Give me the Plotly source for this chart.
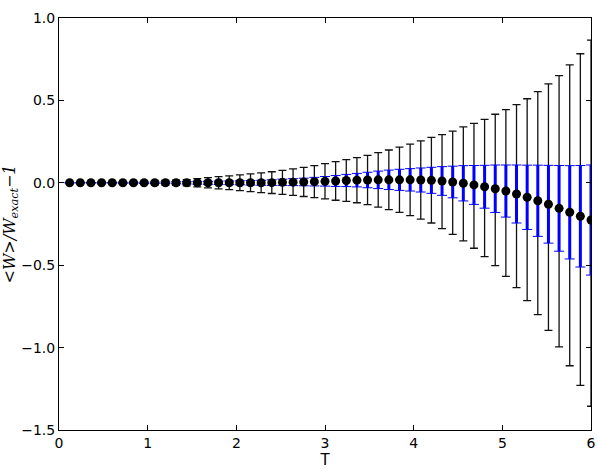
import plotly.graph_objects as go

# Temperatures T
T = [0.12, 0.24, 0.36, 0.48, 0.60, 0.72, 0.84, 0.96, 1.08, 1.20,
     1.32, 1.44, 1.56, 1.68, 1.80, 1.92, 2.04, 2.16, 2.28, 2.40,
     2.52, 2.64, 2.76, 2.88, 3.00, 3.12, 3.24, 3.36, 3.48, 3.60,
     3.72, 3.84, 3.96, 4.08, 4.20, 4.32, 4.44, 4.56, 4.68, 4.80,
     4.92, 5.04, 5.16, 5.28, 5.40, 5.52, 5.64, 5.76, 5.88, 6.00]

# <W>/W_exact - 1
mean = [0.0, 0.0, 0.0, 0.0, 0.0, 0.0, 0.0, 0.0, 0.0, 0.0,
        0.0, 0.0, 0.0, 0.0, 0.0, 0.0, 0.0, 0.0, 0.0, 0.001,
        0.003, 0.004, 0.005, 0.007, 0.009, 0.011, 0.014, 0.016, 0.017, 0.018,
        0.018, 0.018, 0.018, 0.017, 0.015, 0.011, 0.005, -0.003, -0.013, -0.024,
        -0.036, -0.050, -0.068, -0.088, -0.109, -0.130, -0.155, -0.179, -0.203, -0.226]

# black (wide) error bars, upper and lower
black_up = [0.002, 0.003, 0.004, 0.005, 0.006, 0.007, 0.008, 0.010, 0.012, 0.014,
            0.016, 0.019, 0.025, 0.031, 0.037, 0.042, 0.048, 0.054, 0.060, 0.066,
            0.073, 0.080, 0.088, 0.097, 0.107, 0.117, 0.127, 0.137, 0.150, 0.165,
            0.181, 0.198, 0.217, 0.238, 0.261, 0.281, 0.309, 0.342, 0.374, 0.409,
            0.452, 0.494, 0.542, 0.598, 0.662, 0.730, 0.805, 0.894, 0.986, 1.092]
black_down = [0.002, 0.003, 0.004, 0.005, 0.006, 0.007, 0.008, 0.010, 0.012, 0.014,
              0.016, 0.019, 0.025, 0.031, 0.037, 0.042, 0.048, 0.054, 0.060, 0.066,
              0.073, 0.080, 0.088, 0.097, 0.107, 0.117, 0.127, 0.137, 0.150, 0.165,
              0.181, 0.198, 0.217, 0.238, 0.259, 0.289, 0.318, 0.350, 0.384, 0.424,
              0.467, 0.518, 0.568, 0.627, 0.691, 0.765, 0.841, 0.931, 1.026, 1.130]

# blue (narrow) error bars
blue_err = [0.001, 0.001, 0.002, 0.002, 0.002, 0.003, 0.003, 0.004, 0.004, 0.005,
            0.006, 0.007, 0.008, 0.009, 0.010, 0.011, 0.012, 0.014, 0.015, 0.017,
            0.019, 0.021, 0.023, 0.026, 0.029, 0.033, 0.037, 0.041, 0.047, 0.053,
            0.059, 0.064, 0.068, 0.073, 0.079, 0.087, 0.096, 0.107, 0.118, 0.130,
            0.144, 0.158, 0.176, 0.195, 0.216, 0.236, 0.260, 0.283, 0.308, 0.334]

x_ticks = [0, 1, 2, 3, 4, 5, 6]
y_ticks = [-1.5, -1.0, -0.5, 0.0, 0.5, 1.0]

fig = go.Figure()
# black error bars
fig.add_trace(go.Scatter(
    x=T, y=mean, mode="markers",
    marker=dict(size=8, color="rgba(0,0,0,0)"),
    error_y=dict(type="data", array=black_up, arrayminus=black_down,
                 symmetric=False, color="#111111", thickness=1.3, width=4),
    showlegend=False, hoverinfo="skip"))
# blue thin caps
fig.add_trace(go.Scatter(
    x=T, y=mean, mode="markers",
    marker=dict(size=8, color="rgba(0,0,0,0)"),
    error_y=dict(type="data", array=blue_err, color="#0000ff",
                 thickness=1, width=5),
    showlegend=False, hoverinfo="skip"))
# blue thick stems + black points
fig.add_trace(go.Scatter(
    x=T, y=mean, mode="markers",
    marker=dict(size=9, color="black"),
    error_y=dict(type="data", array=blue_err, color="#0000ff",
                 thickness=3, width=0),
    showlegend=False))

axis_common = dict(showline=True, linecolor="black", linewidth=1, mirror="ticks",
                   ticks="inside", ticklen=5, tickwidth=1, tickcolor="black",
                   showgrid=False, zeroline=False, automargin=False,
                   ticklabeloverflow="allow",
                   tickfont=dict(family="DejaVu Sans", size=14, color="black"))

fig.update_xaxes(range=[0, 6], tickvals=x_ticks, ticktext=[str(v) for v in x_ticks],
                 title=dict(text="T", font=dict(family="DejaVu Sans", size=15, color="black"),
                            standoff=2),
                 **axis_common)
fig.update_yaxes(range=[-1.5, 1.0], tickvals=y_ticks, tickformat=".1f",
                 title=dict(text="<i>&lt;W&gt;/W</i><sub><i>exact</i></sub><i>−1</i>",
                            font=dict(family="DejaVu Serif", size=16, color="black"),
                            standoff=8),
                 **axis_common)

fig.update_layout(width=598, height=471,
                  margin=dict(l=59, r=7, t=18, b=41),
                  paper_bgcolor="white", plot_bgcolor="white")

fig.write_html("out.html", config={"displayModeBar": False},
               post_script="document.body.style.margin='0';document.body.style.overflow='hidden';")
